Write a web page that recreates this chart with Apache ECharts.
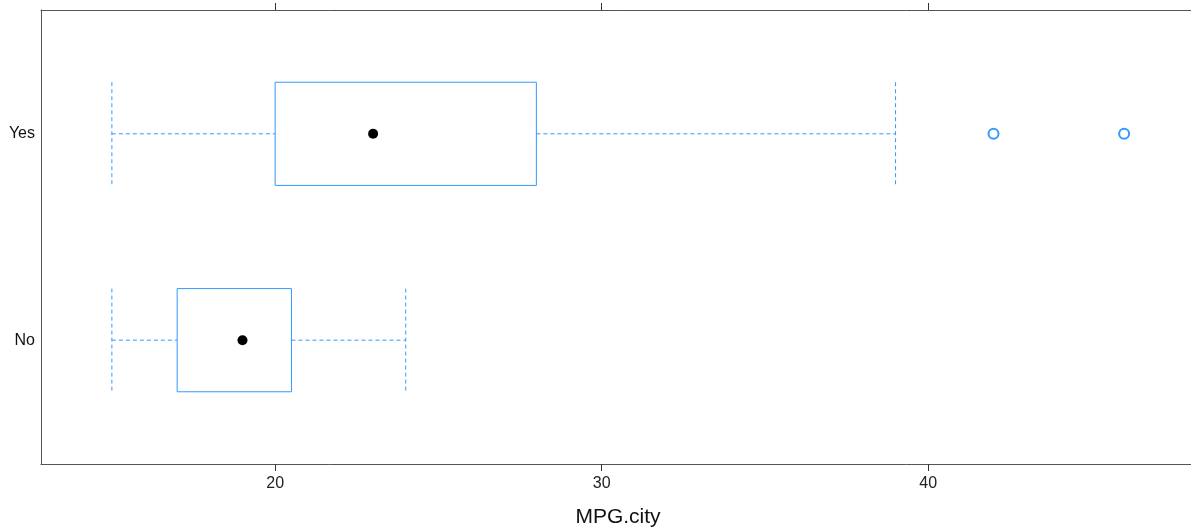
<!DOCTYPE html>
<html>
<head>
<meta charset="utf-8">
<script src="https://cdn.jsdelivr.net/npm/echarts@6/dist/echarts.min.js"></script>
<style>html,body{margin:0;padding:0;background:#fff;overflow:hidden}#c{width:1196px;height:531px}</style>
</head>
<body>
<div id="c"></div>
<script>
const categories = ["No", "Yes"];
const whiskerLow = [15, 15];
const q1 = [17, 20];
const median = [19, 23];
const q3 = [20.5, 28];
const whiskerHigh = [24, 39];
const outliers = [[], [42, 46]];
const xTicks = [20, 30, 40];
const xName = "MPG.city";

const BLUE = "#3399ff";
const FONT = "Liberation Sans";

const boxData = categories.map((c, i) => [i + 1, whiskerLow[i], q1[i], median[i], q3[i], whiskerHigh[i]]);
const outlierData = [];
outliers.forEach((arr, i) => arr.forEach(v => outlierData.push([v, i + 1])));
const medianData = categories.map((c, i) => [median[i], i + 1]);

const chart = echarts.init(document.getElementById('c'), null, {renderer: 'canvas'});
const axisLineStyle = {color: "#555", width: 1};
chart.setOption({
  animation: false,
  grid: {left: 41, right: 1, top: 10, bottom: 67, outerBoundsMode: 'none', containLabel: false},
  xAxis: [{
    type: 'value', position: 'bottom', min: 12.83, max: 48.17,
    splitLine: {show: false},
    axisLine: {show: true, lineStyle: axisLineStyle},
    axisTick: {show: true, length: 7, customValues: xTicks, lineStyle: {color: "#333"}},
    axisLabel: {customValues: xTicks, fontFamily: FONT, fontSize: 16, color: "#222", margin: 12},
    name: xName, nameLocation: 'middle', nameGap: 43,
    nameTextStyle: {fontFamily: FONT, fontSize: 21, color: "#111"}
  }, {
    type: 'value', position: 'top', min: 12.83, max: 48.17,
    splitLine: {show: false},
    axisLine: {show: true, lineStyle: axisLineStyle},
    axisTick: {show: true, length: 7, customValues: xTicks, lineStyle: {color: "#333"}},
    axisLabel: {show: false}
  }],
  yAxis: [{
    type: 'value', position: 'left', min: 0.4, max: 2.6,
    splitLine: {show: false},
    axisLine: {show: true, lineStyle: axisLineStyle},
    axisTick: {show: false},
    axisLabel: {
      customValues: [1, 2], fontFamily: FONT, fontSize: 16, color: "#111", margin: 6,
      formatter: v => categories[Math.round(v) - 1]
    }
  }, {
    type: 'value', position: 'right', min: 0.4, max: 2.6,
    splitLine: {show: false},
    axisLine: {show: true, lineStyle: axisLineStyle},
    axisTick: {show: false}, axisLabel: {show: false}
  }],
  series: [{
    type: 'custom',
    data: boxData,
    encode: {x: [1, 2, 3, 4, 5], y: 0},
    renderItem: function (params, api) {
      const y = api.value(0);
      const lo = api.coord([api.value(1), y]);
      const a = api.coord([api.value(2), y]);
      const hi = api.coord([api.value(5), y]);
      const b = api.coord([api.value(4), y]);
      const half = Math.abs(api.coord([0, y + 0.25])[1] - api.coord([0, y])[1]);
      const cy = lo[1];
      const dash = {stroke: BLUE, lineWidth: 1, lineDash: [4, 3], fill: null};
      const solid = {stroke: BLUE, lineWidth: 1, fill: null};
      return {
        type: 'group',
        children: [
          {type: 'line', shape: {x1: lo[0], y1: cy, x2: a[0], y2: cy}, style: dash},
          {type: 'line', shape: {x1: b[0], y1: cy, x2: hi[0], y2: cy}, style: dash},
          {type: 'line', shape: {x1: lo[0], y1: cy - half, x2: lo[0], y2: cy + half}, style: dash},
          {type: 'line', shape: {x1: hi[0], y1: cy - half, x2: hi[0], y2: cy + half}, style: dash},
          {type: 'rect', shape: {x: a[0], y: cy - half, width: b[0] - a[0], height: 2 * half}, style: solid}
        ]
      };
    },
    z: 2
  }, {
    type: 'scatter',
    data: medianData,
    symbol: 'circle', symbolSize: 10,
    itemStyle: {color: '#000', opacity: 1},
    z: 3
  }, {
    type: 'scatter',
    data: outlierData,
    symbol: 'emptyCircle', symbolSize: 10,
    itemStyle: {color: BLUE, borderColor: BLUE, borderWidth: 1.2, opacity: 1},
    z: 3
  }]
});
</script>
</body>
</html>
